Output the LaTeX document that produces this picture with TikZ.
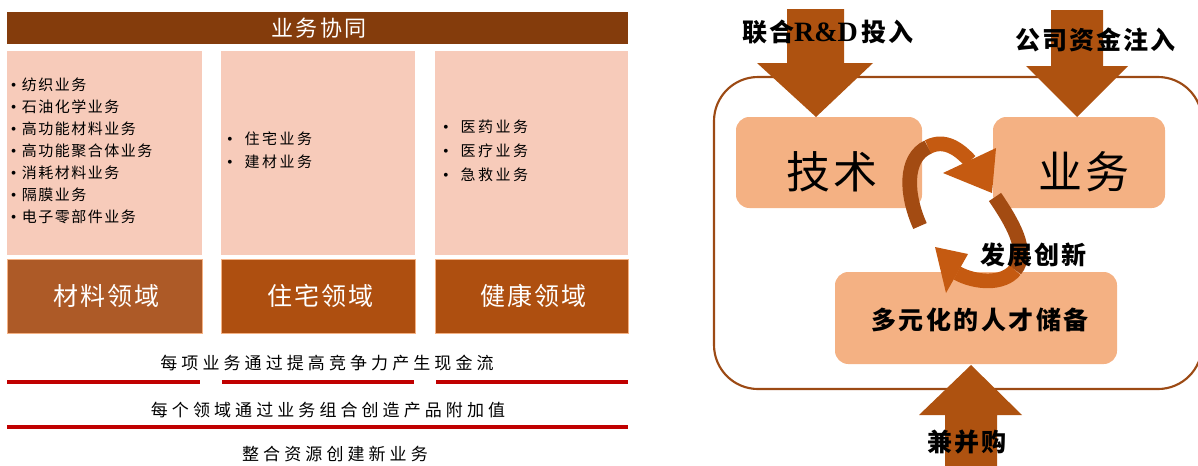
\documentclass[tikz,border=0pt]{standalone}
\usepackage{fontspec}
\setmainfont{Liberation Serif}
\newfontfamily\cjk{Noto Sans CJK SC}
\newcommand\LS[1]{\addfontfeatures{LetterSpace=#1}}
\newcommand\bul{{\rmfamily\fontsize{12}{13}\selectfont •}}
\definecolor{barbrown}{HTML}{843C0C}
\definecolor{pinkbox}{HTML}{F7CBBA}
\definecolor{darkA}{HTML}{AD5A27}
\definecolor{darkB}{HTML}{AE4F10}
\definecolor{redline}{HTML}{C00000}
\definecolor{rbox}{HTML}{F4B183}
\definecolor{bigarrow}{HTML}{AE5210}
\definecolor{outline}{HTML}{9C4A14}
\definecolor{cycdark}{HTML}{A34B12}
\definecolor{cyclight}{HTML}{C55A11}
\definecolor{borderlt}{HTML}{F4B183}
\tikzset{
  txt/.style={inner sep=0pt, outer sep=0pt},
  item/.style={txt, anchor=west, font=\cjk\fontsize{11.25}{13}\selectfont\LS{10}},
  itemB/.style={txt, anchor=west, font=\cjk\fontsize{11.25}{13}\selectfont\LS{17}},
  fieldtxt/.style={txt, text=white, font=\cjk\fontsize{18.75}{20}\selectfont\LS{8}},
  bottomtxt/.style={txt, font=\cjk\fontsize{12.75}{14}\selectfont\LS{24}},
  redrule/.style={draw=redline, line width=2.4pt},
  bigarr/.style={fill=bigarrow},
  rboxstyle/.style={fill=rbox, rounded corners=10pt},
  lbl/.style={txt, font=\cjk\bfseries\fontsize{18.75}{20}\selectfont\LS{8}},
  cycbody/.style={line width=11pt},
}
\begin{document}
\begin{tikzpicture}[x=0.75pt,y=-0.75pt]
\useasboundingbox (0,0) rectangle (1198,465);
% ---------------- left panel ----------------
\fill[barbrown] (7,12) rectangle (628,44);
\node[txt, text=white, font=\cjk\fontsize{16.5}{18}\selectfont\LS{11}] (title) at (319,28) {业务协同};
\fill[pinkbox] (7,51) rectangle (202,255);
\fill[pinkbox] (221,51) rectangle (415,255);
\fill[pinkbox] (435,51) rectangle (628,255);
\filldraw[fill=darkA, draw=borderlt, line width=0.5pt] (7,259) rectangle (202,333);
\filldraw[fill=darkB, draw=borderlt, line width=0.5pt] (221,259) rectangle (415,333);
\filldraw[fill=darkB, draw=borderlt, line width=0.5pt] (435,259) rectangle (628,333);
\node[fieldtxt] (f1) at (106,296) {材料领域};
\node[fieldtxt] (f2) at (320,296) {住宅领域};
\node[fieldtxt] (f3) at (533,296) {健康领域};
\node[item] (a1) at (11,85) {\bul\hspace{4pt}纺织业务};
\node[item] (a2) at (11,107) {\bul\hspace{4pt}石油化学业务};
\node[item] (a3) at (11,129) {\bul\hspace{4pt}高功能材料业务};
\node[item] (a4) at (11,151) {\bul\hspace{4pt}高功能聚合体业务};
\node[item] (a5) at (11,173) {\bul\hspace{4pt}消耗材料业务};
\node[item] (a6) at (11,195) {\bul\hspace{4pt}隔膜业务};
\node[item] (a7) at (11,217) {\bul\hspace{4pt}电子零部件业务};
\node[itemB] (b1) at (227,139) {\bul\hspace{9pt}住宅业务};
\node[itemB] (b2) at (227,162) {\bul\hspace{9pt}建材业务};
\node[itemB] (c1) at (443,127) {\bul\hspace{9pt}医药业务};
\node[itemB] (c2) at (443,151) {\bul\hspace{9pt}医疗业务};
\node[itemB] (c3) at (443,175) {\bul\hspace{9pt}急救业务};
\node[bottomtxt] (t1) at (327,363) {每项业务通过提高竞争力产生现金流};
\draw[redrule] (7,382) -- (200,382);
\draw[redrule] (222,382) -- (414,382);
\draw[redrule] (436,382) -- (628,382);
\node[bottomtxt] (t2) at (328,410) {每个领域通过业务组合创造产品附加值};
\draw[redrule] (7,427) -- (628,427);
\node[bottomtxt] (t3) at (335,454) {整合资源创建新业务};
% ---------------- right panel ----------------
\draw[outline, line width=1.6pt, rounded corners=33pt] (714,77) rectangle (1202,389);
\fill[rboxstyle] (736,117) rectangle (922,208);
\fill[rboxstyle] (993,117) rectangle (1165,208);
\fill[rboxstyle] (835,272) rectangle (1117,364);
\node[txt, font=\cjk\fontsize{33}{34}\selectfont\LS{5}] (tech) at (832,172) {技术};
\node[txt, font=\cjk\fontsize{33}{34}\selectfont\LS{5}] (biz) at (1084,172) {业务};
\node[txt, font=\cjk\bfseries\fontsize{18.75}{20}\selectfont\LS{10}] (talent) at (980,320) {多元化的人才储备};
% straight arrows
\fill[bigarr] (787,9) -- (844,9) -- (844,63) -- (873,63) -- (816,117) -- (757,63) -- (787,63) -- cycle;
\fill[bigarr] (1051,10) -- (1103,10) -- (1103,66) -- (1128,66) -- (1077,117) -- (1026,66) -- (1051,66) -- cycle;
\fill[bigarr] (945,470) -- (997,470) -- (997,415) -- (1022,415) -- (971,365) -- (919,415) -- (945,415) -- cycle;
% cycle arrows
\coordinate (pA0) at (920,226);
\coordinate (pA1) at (928,147);
\coordinate (pA2) at (970,161);
\draw[cycbody, cycdark] (pA0) .. controls (906,195) and (904,158) .. (pA1);
\draw[cycbody, cyclight] (pA1) .. controls (945,138) and (960,150) .. (pA2);
\fill[cyclight] (943,173) -- (996,148) -- (992,193) -- cycle;
\coordinate (pB0) at (995,197);
\coordinate (pB1) at (1015,270);
\coordinate (pB2) at (957,273);
\draw[cycbody, cycdark] (pB0) .. controls (1012,222) and (1030,252) .. (pB1);
\draw[cycbody, cyclight] (pB1) .. controls (1003,285) and (975,283) .. (pB2);
\fill[cyclight] (935,247) -- (968,254) -- (946,293) -- cycle;
% labels
\node[lbl] (rd) at (828,32) {联合{\rmfamily\bfseries\fontsize{21}{22}\selectfont R\&D}\hspace{3pt}投入};
\node[lbl] (fund) at (1095,40) {公司资金注入};
\node[lbl] (dev) at (1033,255) {发展创新};
\node[lbl] (ma) at (967,442) {兼并购};
\end{tikzpicture}
\end{document}
